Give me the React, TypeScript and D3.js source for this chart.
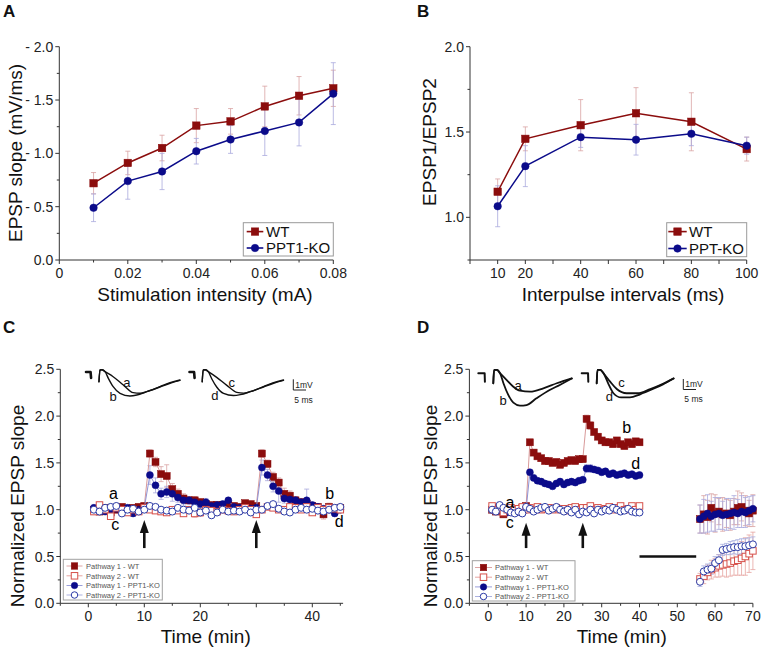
import React from "react";
import * as d3 from "d3";

type Pt = [number, number];

const FONT = "'Liberation Sans', Arial, Helvetica, sans-serif";
const WT_COLOR = "#8b0d0d";
const KO_COLOR = "#0b0b8a";
const WT_ERR = "#d9a3a3";
const KO_ERR = "#a9a9dd";
const P2_WT = "#d6504a";
const P2_KO = "#2c3ba6";
const WT_LINE_LIGHT = "#d99a9a";
const KO_LINE_LIGHT = "#8f93d6";
const AXIS = "#333";

// ---------------- Panel A ----------------
const aIntensity = [0.01, 0.02, 0.03, 0.04, 0.05, 0.06, 0.07, 0.08];
const aWT = [0.72, 0.91, 1.05, 1.26, 1.3, 1.44, 1.54, 1.61];
const aWTErr = [0.1, 0.11, 0.12, 0.16, 0.12, 0.19, 0.18, 0.17];
const aKO = [0.49, 0.74, 0.83, 1.02, 1.13, 1.21, 1.29, 1.56];
const aKOErr = [0.13, 0.17, 0.17, 0.12, 0.13, 0.23, 0.22, 0.29];
const aXTicks = [0, 0.02, 0.04, 0.06, 0.08];
const aXTickLabels = ["0", "0.02", "0.04", "0.06", "0.08"];
const aXMinor = [0.01, 0.03, 0.05, 0.07];
const aYTicks = [0, 0.5, 1, 1.5, 2];
const aYTickLabels = ["0.0", "- 0.5", "- 1.0", "- 1.5", "- 2.0"];
const aYMinor = [0.25, 0.75, 1.25, 1.75];

// ---------------- Panel B ----------------
const bInterval = [10, 20, 40, 60, 80, 100];
const bWT = [1.15, 1.46, 1.54, 1.61, 1.56, 1.4];
const bWTErr = [0.075, 0.07, 0.15, 0.15, 0.17, 0.07];
const bKO = [1.065, 1.3, 1.47, 1.455, 1.49, 1.42];
const bKOErr = [0.12, 0.12, 0.06, 0.09, 0.07, 0.05];
const bXTicks = [0, 10, 20, 30, 40, 50, 60, 70, 80, 90, 100];
const bXLabelTicks = [10, 20, 40, 60, 80, 100];
const bYTicks = [1, 1.5, 2];
const bYTickLabels = ["1.0", "1.5", "2.0"];
const bYMinor = [0.75, 1.25, 1.75];

// ---------------- Panel C ----------------
const cTime = [1, 2, 3, 4, 5, 6, 7, 8, 9, 10, 11, 12, 13, 14, 15, 16, 17, 18, 19, 20, 21, 22, 23, 24, 25, 26, 27, 28, 29, 30, 31, 32, 33, 34, 35, 36, 37, 38, 39, 40, 41, 42, 43, 44, 45];
const cP1WT = [1.0, 0.98, 1.02, 0.97, 1.0, 1.03, 1.0, 1.02, 1.03, 1.04, 1.6, 1.51, 1.38, 1.36, 1.22, 1.17, 1.12, 1.1, 1.1, 1.08, 1.06, 1.05, 1.05, 1.05, 1.05, 1.04, 1.03, 1.07, 1.06, 1.04, 1.6, 1.49, 1.35, 1.29, 1.17, 1.15, 1.1, 1.08, 1.06, 1.04, 1.03, 0.95, 1.03, 1.0, 1.02];
const cP1WTErr = [0.03, 0.03, 0.03, 0.03, 0.03, 0.03, 0.03, 0.03, 0.03, 0.03, 0.04, 0.05, 0.08, 0.12, 0.06, 0.05, 0.05, 0.04, 0.04, 0.04, 0.04, 0.03, 0.03, 0.03, 0.03, 0.03, 0.03, 0.03, 0.03, 0.03, 0.04, 0.04, 0.05, 0.05, 0.06, 0.05, 0.04, 0.04, 0.04, 0.03, 0.03, 0.05, 0.04, 0.03, 0.03];
const cP1KO = [1.02, 1.0, 0.98, 1.0, 1.01, 0.98, 1.02, 0.96, 1.0, 1.02, 1.37, 1.26, 1.17, 1.19, 1.17, 1.13, 1.1, 1.1, 1.08, 1.06, 1.08, 1.04, 1.05, 1.06, 1.1, 1.03, 1.02, 1.02, 1.01, 1.02, 1.45, 1.37, 1.25, 1.2, 1.12, 1.11, 1.1, 1.08, 1.1, 1.05, 1.03, 1.01, 1.0, 0.96, 1.0];
const cP1KOErr = [0.03, 0.03, 0.03, 0.03, 0.03, 0.03, 0.03, 0.03, 0.03, 0.03, 0.1, 0.08, 0.06, 0.06, 0.08, 0.05, 0.05, 0.04, 0.04, 0.04, 0.04, 0.03, 0.03, 0.03, 0.03, 0.03, 0.03, 0.03, 0.03, 0.03, 0.08, 0.06, 0.06, 0.12, 0.05, 0.05, 0.04, 0.04, 0.12, 0.03, 0.03, 0.03, 0.03, 0.03, 0.03];
const cP2WT = [0.98, 1.05, 1.0, 0.93, 1.02, 1.0, 0.97, 1.0, 0.98, 1.02, 1.0, 0.99, 0.98, 0.97, 1.0, 0.99, 0.96, 1.0, 0.96, 0.97, 1.0, 0.99, 0.98, 1.0, 0.99, 0.98, 1.0, 1.02, 1.0, 0.95, 1.0, 1.03, 1.02, 1.0, 1.0, 1.03, 1.02, 1.0, 1.03, 0.97, 1.02, 1.0, 1.02, 1.01, 1.0];
const cP2WTErr = [0.03, 0.03, 0.03, 0.03, 0.03, 0.03, 0.03, 0.03, 0.03, 0.03, 0.03, 0.03, 0.03, 0.03, 0.03, 0.03, 0.03, 0.03, 0.04, 0.04, 0.03, 0.03, 0.03, 0.03, 0.03, 0.03, 0.03, 0.03, 0.03, 0.03, 0.03, 0.03, 0.03, 0.03, 0.03, 0.03, 0.03, 0.03, 0.03, 0.03, 0.03, 0.03, 0.03, 0.03, 0.03];
const cP2KO = [1.0, 0.98, 1.02, 1.03, 1.04, 0.96, 1.0, 1.01, 0.98, 1.0, 1.04, 1.03, 1.0, 0.99, 0.98, 1.02, 1.0, 0.99, 1.02, 0.97, 0.99, 0.94, 0.97, 1.0, 0.98, 0.99, 0.98, 1.0, 0.97, 1.0, 1.0, 1.04, 1.06, 1.01, 0.98, 0.97, 1.0, 1.02, 1.0, 1.01, 0.99, 0.98, 1.0, 1.02, 1.03];
const cP2KOErr = [0.02, 0.02, 0.02, 0.02, 0.02, 0.02, 0.02, 0.02, 0.02, 0.02, 0.02, 0.02, 0.02, 0.02, 0.02, 0.02, 0.02, 0.02, 0.02, 0.02, 0.02, 0.02, 0.02, 0.02, 0.02, 0.02, 0.02, 0.02, 0.02, 0.02, 0.02, 0.02, 0.02, 0.02, 0.02, 0.02, 0.02, 0.02, 0.02, 0.02, 0.02, 0.02, 0.02, 0.02, 0.02];
const cArrowTimes = [10, 30];
const cXMajor = [0, 10, 20, 30, 40];
const cXLabelTicks = [0, 10, 20, 40];
const cXMinor = [-5, 5, 15, 25, 35, 45];
const tYMajor = [0, 0.5, 1, 1.5, 2, 2.5];
const tYLabels = ["0.0", "0.5", "1.0", "1.5", "2.0", "2.5"];
const tYMinor = [0.25, 0.75, 1.25, 1.75, 2.25];

// ---------------- Panel D ----------------
const dTimePre = [1, 2, 3, 4, 5, 6, 7, 8, 9, 10, 11, 12, 13, 14, 15, 16, 17, 18, 19, 20, 21, 22, 23, 24, 25, 26, 27, 28, 29, 30, 31, 32, 33, 34, 35, 36, 37, 38, 39, 40];
const dTimePost = [56, 57, 58, 59, 60, 61, 62, 63, 64, 65, 66, 67, 68, 69, 70];
const dP1WTPre = [1.0, 0.98, 1.0, 0.95, 0.99, 1.0, 0.98, 1.0, 1.02, 1.04, 1.72, 1.61, 1.57, 1.55, 1.52, 1.52, 1.5, 1.51, 1.48, 1.5, 1.52, 1.53, 1.52, 1.54, 1.54, 1.97, 1.9, 1.83, 1.78, 1.74, 1.72, 1.72, 1.7, 1.74, 1.7, 1.68, 1.72, 1.7, 1.73, 1.72];
const dP1KOPre = [1.0, 1.02, 1.0, 0.98, 0.97, 1.0, 0.99, 0.98, 0.97, 1.0, 1.4, 1.34, 1.31, 1.3, 1.28, 1.27, 1.25, 1.28, 1.3, 1.27, 1.29, 1.3, 1.29, 1.31, 1.32, 1.44, 1.44, 1.43, 1.42, 1.4, 1.41, 1.38, 1.39, 1.37, 1.38, 1.39, 1.37, 1.38, 1.36, 1.37];
const dP1PreErr = [0.02, 0.02, 0.02, 0.02, 0.02, 0.02, 0.02, 0.02, 0.02, 0.02, 0.03, 0.03, 0.03, 0.03, 0.03, 0.03, 0.03, 0.03, 0.03, 0.03, 0.03, 0.03, 0.03, 0.03, 0.03, 0.04, 0.04, 0.03, 0.03, 0.03, 0.03, 0.03, 0.03, 0.03, 0.03, 0.03, 0.03, 0.03, 0.03, 0.03];
const dP2WTPre = [1.04, 1.0, 1.02, 0.97, 1.0, 1.02, 1.0, 1.01, 1.03, 1.0, 1.02, 1.0, 1.03, 1.0, 1.01, 1.02, 1.0, 1.02, 1.0, 1.01, 0.99, 1.02, 1.03, 1.0, 1.02, 1.02, 1.04, 1.0, 1.02, 1.0, 1.01, 1.03, 1.0, 1.02, 1.04, 1.0, 1.01, 1.04, 1.0, 1.04];
const dP2KOPre = [1.0, 0.98, 1.05, 1.02, 1.0, 0.97, 0.96, 0.98, 0.96, 1.03, 1.01, 0.98, 1.0, 1.02, 1.03, 0.99, 1.01, 1.03, 1.0, 0.98, 1.0, 0.97, 1.0, 0.95, 0.98, 0.97, 1.0, 0.96, 1.0, 0.98, 1.0, 0.99, 1.02, 1.0, 0.98, 0.99, 1.01, 0.98, 0.97, 0.97];
const dP2PreErr = [0.02, 0.02, 0.02, 0.02, 0.02, 0.02, 0.02, 0.02, 0.02, 0.02, 0.02, 0.02, 0.02, 0.02, 0.02, 0.02, 0.02, 0.02, 0.02, 0.02, 0.02, 0.02, 0.02, 0.02, 0.02, 0.02, 0.02, 0.02, 0.02, 0.02, 0.02, 0.02, 0.02, 0.02, 0.02, 0.02, 0.02, 0.02, 0.02, 0.02];
const dP1WTPost = [0.9, 0.95, 0.92, 1.02, 0.96, 0.98, 0.95, 0.96, 0.94, 0.98, 1.02, 1.03, 0.99, 0.96, 0.99];
const dP1WTPostErr = [0.15, 0.2, 0.18, 0.15, 0.2, 0.14, 0.18, 0.15, 0.16, 0.14, 0.18, 0.15, 0.16, 0.14, 0.17];
const dP1KOPost = [0.9, 0.93, 0.96, 0.93, 0.95, 0.96, 0.94, 0.95, 0.96, 0.97, 0.96, 0.98, 0.97, 0.99, 1.01];
const dP1KOPostErr = [0.15, 0.18, 0.2, 0.16, 0.18, 0.17, 0.15, 0.17, 0.16, 0.18, 0.15, 0.17, 0.16, 0.15, 0.14];
const dP2WTPost = [0.26, 0.29, 0.33, 0.36, 0.38, 0.4, 0.41, 0.42, 0.43, 0.45, 0.46, 0.48, 0.5, 0.53, 0.56];
const dP2WTPostErr = [0.06, 0.08, 0.08, 0.1, 0.1, 0.12, 0.12, 0.14, 0.14, 0.15, 0.16, 0.18, 0.2, 0.2, 0.2];
const dP2KOPost = [0.23, 0.34, 0.36, 0.37, 0.43, 0.46, 0.57, 0.58, 0.59, 0.6, 0.6, 0.61, 0.61, 0.62, 0.63];
const dP2KOPostErr = [0.05, 0.06, 0.06, 0.06, 0.07, 0.06, 0.06, 0.06, 0.07, 0.07, 0.08, 0.08, 0.08, 0.08, 0.08];
const dArrowTimes = [10, 25];
const dBar = [40, 55];
const dBarLevel = 0.5;
const dXMajor = [0, 10, 20, 30, 40, 50, 60, 70];
const dXMinor = [-5, 5, 15, 25, 35, 45, 55, 65];

// ---------------- Inset traces (ms, mV) ----------------
const cArtifact: Pt[] = [[0, 0], [1.8, 0], [2.0, -0.55]];
const cTraceA: Pt[] = [[5.1, -0.91], [5.5, 0.19], [6.3, 0.21], [7.5, 0.03], [10.7, -0.44], [14.7, -1.21], [18.6, -1.93], [21.3, -1.99], [23.9, -1.84], [29.1, -1.37], [33.1, -1.0], [37.0, -0.75]];
const cTraceB: Pt[] = [[5.1, -0.91], [5.5, 0.19], [6.3, 0.21], [7.5, 0.03], [8.8, -0.59], [10.7, -1.37], [13.4, -1.99], [17.3, -2.24], [20.0, -2.15], [23.9, -1.84], [29.1, -1.4], [33.1, -1.05], [37.0, -0.78]];
const cTraceC: Pt[] = [[5.0, -0.91], [5.4, 0.19], [6.2, 0.21], [7.4, 0.03], [10.7, -0.5], [14.7, -1.25], [18.6, -1.9], [21.3, -1.97], [23.9, -1.84], [29.1, -1.37], [33.1, -1.0], [37.0, -0.75]];
const cTraceD: Pt[] = [[5.0, -0.91], [5.4, 0.19], [6.2, 0.21], [7.4, 0.03], [8.8, -0.65], [10.7, -1.4], [13.4, -2.0], [17.3, -2.2], [20.0, -2.12], [23.9, -1.84], [29.1, -1.4], [33.1, -1.05], [37.0, -0.78]];
const dArtifact: Pt[] = [[0, 0], [2.5, 0], [2.6, -0.8]];
const dTraceA: Pt[] = [[5.9, -0.95], [6.2, 0.32], [7.3, 0.32], [8.6, 0], [11.2, -0.64], [13.8, -1.28], [16.4, -1.66], [20.4, -1.75], [25.6, -1.43], [30.9, -0.95], [36.8, -0.48]];
const dTraceB: Pt[] = [[5.9, -0.95], [6.2, 0.32], [7.3, 0.32], [8.6, 0], [9.9, -0.95], [11.8, -2.06], [13.8, -2.8], [16.4, -3.08], [19.0, -3.02], [22.9, -2.38], [28.1, -1.59], [32.1, -1.11], [36.8, -0.5]];
const dTraceC: Pt[] = [[5.9, -0.95], [6.2, 0.32], [7.3, 0.32], [8.6, 0], [11.2, -0.8], [13.8, -1.5], [17.7, -1.9], [22, -1.9], [27, -1.5], [32, -1.0], [36.2, -0.48]];
const dTraceD: Pt[] = [[5.9, -0.95], [6.2, 0.32], [7.3, 0.32], [8.6, 0], [10.5, -1.0], [12.5, -1.9], [15.5, -2.3], [19, -2.3], [23, -2.0], [28, -1.5], [32, -1.05], [36.2, -0.5]];

// ---------------- helpers ----------------
function Marker({ x, y, shape, filled, color, size = 7 }: any) {
  if (shape === "sq") {
    return <rect x={x - size / 2} y={y - size / 2} width={size} height={size} fill={filled ? color : "#fff"} stroke={color} strokeWidth={filled ? 0.5 : 1} />;
  }
  return <circle cx={x} cy={y} r={size / 2} fill={filled ? color : "#fff"} stroke={color} strokeWidth={filled ? 0.5 : 1} />;
}

function ErrBars({ xs, ys, times, vals, errs, color, cap = 2.5, both = true }: any) {
  return (
    <g stroke={color} strokeWidth={0.8} fill="none">
      {times.map((t: number, i: number) => {
        const x = xs(t);
        const hi = ys(vals[i] + errs[i]);
        const lo = both ? ys(vals[i] - errs[i]) : ys(vals[i]);
        return (
          <g key={i}>
            <line x1={x} x2={x} y1={hi} y2={lo} />
            <line x1={x - cap} x2={x + cap} y1={hi} y2={hi} />
            {both && <line x1={x - cap} x2={x + cap} y1={lo} y2={lo} />}
          </g>
        );
      })}
    </g>
  );
}

function Series({ xs, ys, times, vals, shape, filled, color, lineColor, lineWidth = 1.5, size = 7 }: any) {
  const pts: Pt[] = times.map((t: number, i: number) => [t, vals[i]]);
  const path = d3.line<Pt>().x((d) => xs(d[0])).y((d) => ys(d[1]))(pts) || "";
  return (
    <g>
      <path d={path} fill="none" stroke={lineColor} strokeWidth={lineWidth} />
      {pts.map((p, i) => (
        <Marker key={i} x={xs(p[0])} y={ys(p[1])} shape={shape} filled={filled} color={color} size={size} />
      ))}
    </g>
  );
}

function AxisLeft({ scale, x0, major, labels, minor, fs = 14 }: any) {
  const [b, t] = scale.range();
  return (
    <g fontFamily={FONT}>
      <line x1={x0} x2={x0} y1={b} y2={t} stroke={AXIS} strokeWidth={1} />
      {major.map((v: number, i: number) => (
        <g key={"M" + i}>
          <line x1={x0 - 4} x2={x0} y1={scale(v)} y2={scale(v)} stroke={AXIS} />
          <text x={x0 - 6} y={scale(v)} dy="0.36em" textAnchor="end" fontSize={fs} fill="#222">{labels[i]}</text>
        </g>
      ))}
      {minor.map((v: number, i: number) => (
        <line key={"m" + i} x1={x0 - 2.5} x2={x0} y1={scale(v)} y2={scale(v)} stroke={AXIS} />
      ))}
    </g>
  );
}

function AxisBottom({ scale, y0, major, labelTicks, labelFn, minor, fs = 14 }: any) {
  const [l, r] = scale.range();
  return (
    <g fontFamily={FONT}>
      <line x1={l} x2={r} y1={y0} y2={y0} stroke={AXIS} strokeWidth={1} />
      {major.map((v: number, i: number) => (
        <line key={"M" + i} x1={scale(v)} x2={scale(v)} y1={y0} y2={y0 + 4} stroke={AXIS} />
      ))}
      {minor.map((v: number, i: number) => (
        <line key={"m" + i} x1={scale(v)} x2={scale(v)} y1={y0} y2={y0 + 2.5} stroke={AXIS} />
      ))}
      {labelTicks.map((v: number, i: number) => (
        <text key={"L" + i} x={scale(v)} y={y0 + 18} textAnchor="middle" fontSize={fs} fill="#222">{labelFn(v, i)}</text>
      ))}
    </g>
  );
}

function Trace({ pts, x0, y0, pxMs, pxMv, width = 1.4, linear = false }: any) {
  const xs = d3.scaleLinear().domain([0, 1]).range([x0, x0 + pxMs]);
  const ys = d3.scaleLinear().domain([0, 1]).range([y0, y0 - pxMv]);
  const gen = d3.line<Pt>().x((d) => xs(d[0])).y((d) => ys(d[1])).curve(linear ? d3.curveLinear : d3.curveMonotoneX);
  return <path d={gen(pts) || ""} fill="none" stroke="#111" strokeWidth={width} strokeLinejoin="round" strokeLinecap="round" />;
}

function TraceLabel({ t, v, x0, y0, pxMs, pxMv, text, fs = 13 }: any) {
  const xs = d3.scaleLinear().domain([0, 1]).range([x0, x0 + pxMs]);
  const ys = d3.scaleLinear().domain([0, 1]).range([y0, y0 - pxMv]);
  return <text x={xs(t)} y={ys(v)} dy="0.35em" textAnchor="middle" fontSize={fs} fontFamily={FONT} fill="#111">{text}</text>;
}

function ScaleBar({ x, y, pxMs, pxMv }: any) {
  return (
    <g fontFamily={FONT} fill="#222">
      <path d={`M${x},${y - pxMv}V${y}H${x + 5 * pxMs}`} fill="none" stroke="#222" strokeWidth={1} />
      <text x={x + 2} y={y - pxMv / 2} dy="0.35em" fontSize={8.5}>1mV</text>
      <text x={x + 1} y={y + 10} dy="0.35em" fontSize={8.5}>5 ms</text>
    </g>
  );
}

function Arrow({ x, yTip, yBase }: any) {
  const headLen = 13;
  const headW = 4.5;
  return (
    <g fill="#111" stroke="#111">
      <line x1={x} x2={x} y1={yTip + headLen - 1} y2={yBase} strokeWidth={2.6} />
      <path d={`M${x},${yTip}L${x - headW},${yTip + headLen}L${x + headW},${yTip + headLen}Z`} stroke="none" />
    </g>
  );
}

function LegendBig({ x, y, w, h, items, lineX0, lineX1, textX, rowYs, fs = 15 }: any) {
  return (
    <g fontFamily={FONT}>
      <rect x={x} y={y} width={w} height={h} fill="#fff" stroke="#9a9a9a" strokeWidth={1} />
      {items.map((it: any, i: number) => (
        <g key={i}>
          <line x1={lineX0} x2={lineX1} y1={rowYs[i]} y2={rowYs[i]} stroke={it.color} strokeWidth={1.6} />
          <Marker x={(lineX0 + lineX1) / 2} y={rowYs[i]} shape={it.shape} filled={true} color={it.color} size={7.5} />
          <text x={textX} y={rowYs[i]} dy="0.36em" fontSize={fs} fill="#111">{it.label}</text>
        </g>
      ))}
    </g>
  );
}

function LegendSmall({ x, y, w, h, items, lineX0, lineX1, textX, rowYs }: any) {
  return (
    <g fontFamily={FONT}>
      <rect x={x} y={y} width={w} height={h} fill="#fff" stroke="#a0a0a0" strokeWidth={1} />
      {items.map((it: any, i: number) => (
        <g key={i}>
          <line x1={lineX0} x2={lineX1} y1={rowYs[i]} y2={rowYs[i]} stroke={it.lineColor} strokeWidth={0.9} />
          <Marker x={(lineX0 + lineX1) / 2} y={rowYs[i]} shape={it.shape} filled={it.filled} color={it.color} size={6.5} />
          <text x={textX} y={rowYs[i]} dy="0.36em" fontSize={7.5} fill="#555">{it.label}</text>
        </g>
      ))}
    </g>
  );
}

const smallLegendItems = [
  { label: "Pathway 1 - WT", shape: "sq", filled: true, color: WT_COLOR, lineColor: WT_LINE_LIGHT },
  { label: "Pathway 2 - WT", shape: "sq", filled: false, color: P2_WT, lineColor: "#e39a96" },
  { label: "Pathway 1 - PPT1-KO", shape: "circ", filled: true, color: KO_COLOR, lineColor: KO_LINE_LIGHT },
  { label: "Pathway 2 - PPT1-KO", shape: "circ", filled: false, color: P2_KO, lineColor: "#a3a8dc" },
];

export default function App() {
  // scales
  const xA = d3.scaleLinear().domain([0, 0.08]).range([59.3, 333.3]);
  const yA = d3.scaleLinear().domain([0, 2]).range([260, 46.7]);
  const xB = d3.scaleLinear().domain([0, 100]).range([470, 746.7]);
  const yB = d3.scaleLinear().domain([0.75, 2]).range([260, 46.7]);
  const xC = d3.scaleLinear().domain([-5, 45.5]).range([60.3, 343.1]);
  const yC = d3.scaleLinear().domain([0, 2.5]).range([603.3, 369.3]);
  const xD = d3.scaleLinear().domain([-5, 70]).range([469.4, 752.9]);
  const yD = yC;

  const titleStyle = { fontFamily: FONT, fontSize: 19, fill: "#111" } as any;
  const letterStyle = { fontFamily: FONT, fontSize: 17, fontWeight: 700, fill: "#111" } as any;

  const cMs = 2.54, cMv = 10.7;
  const dMs = 2.54, dMv = 10.5;

  return (
    <svg width={765} height={652} style={{ position: "absolute", left: 0, top: 0, background: "#fff" }}>
      <rect x={0} y={0} width={765} height={652} fill="#fff" />
      {/* Panel letters */}
      <text x={3} y={17} style={letterStyle}>A</text>
      <text x={417} y={17} style={letterStyle}>B</text>
      <text x={3} y={333} style={letterStyle}>C</text>
      <text x={417} y={333} style={letterStyle}>D</text>

      {/* ---------- Panel A ---------- */}
      <AxisLeft scale={yA} x0={59.3} major={aYTicks} labels={aYTickLabels} minor={aYMinor} />
      <AxisBottom scale={xA} y0={260} major={aXTicks} labelTicks={aXTicks} labelFn={(v: number, i: number) => aXTickLabels[i]} minor={aXMinor} />
      <ErrBars xs={xA} ys={yA} times={aIntensity} vals={aWT} errs={aWTErr} color={WT_ERR} />
      <ErrBars xs={xA} ys={yA} times={aIntensity} vals={aKO} errs={aKOErr} color={KO_ERR} />
      <Series xs={xA} ys={yA} times={aIntensity} vals={aWT} shape="sq" filled color={WT_COLOR} lineColor={WT_COLOR} size={7.5} />
      <Series xs={xA} ys={yA} times={aIntensity} vals={aKO} shape="circ" filled color={KO_COLOR} lineColor={KO_COLOR} size={7.5} />
      <LegendBig x={243.3} y={222.7} w={90} h={33.3} lineX0={246.7} lineX1={263.3} textX={266} rowYs={[231.6, 248]}
        items={[{ label: "WT", shape: "sq", color: WT_COLOR }, { label: "PPT1-KO", shape: "circ", color: KO_COLOR }]} />
      <text transform="translate(22,153) rotate(-90)" textAnchor="middle" style={titleStyle}>EPSP slope (mV/ms)</text>
      <text x={205} y={301} textAnchor="middle" style={titleStyle}>Stimulation intensity (mA)</text>

      {/* ---------- Panel B ---------- */}
      <AxisLeft scale={yB} x0={470} major={bYTicks} labels={bYTickLabels} minor={bYMinor} />
      <AxisBottom scale={xB} y0={260} major={bXTicks} labelTicks={bXLabelTicks} labelFn={(v: number) => String(v)} minor={[]} />
      <ErrBars xs={xB} ys={yB} times={bInterval} vals={bWT} errs={bWTErr} color={WT_ERR} />
      <ErrBars xs={xB} ys={yB} times={bInterval} vals={bKO} errs={bKOErr} color={KO_ERR} />
      <Series xs={xB} ys={yB} times={bInterval} vals={bWT} shape="sq" filled color={WT_COLOR} lineColor={WT_COLOR} size={7.5} />
      <Series xs={xB} ys={yB} times={bInterval} vals={bKO} shape="circ" filled color={KO_COLOR} lineColor={KO_COLOR} size={7.5} />
      <LegendBig x={666.7} y={222.7} w={80} h={34} lineX0={668.3} lineX1={686.7} textX={689} rowYs={[231.6, 248.5]}
        items={[{ label: "WT", shape: "sq", color: WT_COLOR }, { label: "PPT-KO", shape: "circ", color: KO_COLOR }]} />
      <text transform="translate(436,142) rotate(-90)" textAnchor="middle" style={titleStyle}>EPSP1/EPSP2</text>
      <text x={623} y={301} textAnchor="middle" style={titleStyle}>Interpulse intervals (ms)</text>

      {/* ---------- Panel C ---------- */}
      <AxisLeft scale={yC} x0={60.3} major={tYMajor} labels={tYLabels} minor={tYMinor} />
      <AxisBottom scale={xC} y0={603.3} major={cXMajor} labelTicks={cXLabelTicks} labelFn={(v: number) => String(v)} minor={cXMinor} />
      <ErrBars xs={xC} ys={yC} times={cTime} vals={cP1WT} errs={cP1WTErr} color={WT_ERR} />
      <ErrBars xs={xC} ys={yC} times={cTime} vals={cP1KO} errs={cP1KOErr} color={KO_ERR} />
      <ErrBars xs={xC} ys={yC} times={cTime} vals={cP2WT} errs={cP2WTErr} color="#e6a3a0" />
      <ErrBars xs={xC} ys={yC} times={cTime} vals={cP2KO} errs={cP2KOErr} color="#aab0e0" />
      <Series xs={xC} ys={yC} times={cTime} vals={cP1WT} shape="sq" filled color={WT_COLOR} lineColor={WT_LINE_LIGHT} lineWidth={1} />
      <Series xs={xC} ys={yC} times={cTime} vals={cP1KO} shape="circ" filled color={KO_COLOR} lineColor={KO_LINE_LIGHT} lineWidth={1} />
      <Series xs={xC} ys={yC} times={cTime} vals={cP2WT} shape="sq" filled={false} color={P2_WT} lineColor="#e39a96" lineWidth={0.8} size={6.5} />
      <Series xs={xC} ys={yC} times={cTime} vals={cP2KO} shape="circ" filled={false} color={P2_KO} lineColor="#a3a8dc" lineWidth={0.8} size={7} />
      {cArrowTimes.map((t, i) => <Arrow key={i} x={xC(t)} yTip={yC(0.89)} yBase={yC(0.59)} />)}
      <text x={xC(4.5)} y={yC(1.17)} dy="0.35em" textAnchor="middle" fontSize={16} fontFamily={FONT}>a</text>
      <text x={xC(4.8)} y={yC(0.84)} dy="0.35em" textAnchor="middle" fontSize={16} fontFamily={FONT}>c</text>
      <text x={xC(43.1)} y={yC(1.17)} dy="0.35em" textAnchor="middle" fontSize={16} fontFamily={FONT}>b</text>
      <text x={xC(44.8)} y={yC(0.87)} dy="0.35em" textAnchor="middle" fontSize={16} fontFamily={FONT}>d</text>
      <LegendSmall x={63.3} y={559.3} w={99} h={40.7} lineX0={66.5} lineX1={82.5} textX={86} rowYs={[566, 575.8, 585.5, 595]} items={smallLegendItems} />
      {/* insets C */}
      <Trace pts={cArtifact} x0={86} y0={372} pxMs={cMs} pxMv={cMv} width={2.6} linear />
      <Trace pts={cTraceA} x0={86} y0={372} pxMs={cMs} pxMv={cMv} />
      <Trace pts={cTraceB} x0={86} y0={372} pxMs={cMs} pxMv={cMv} />
      <TraceLabel t={16.1} v={-1.0} x0={86} y0={372} pxMs={cMs} pxMv={cMv} text="a" />
      <TraceLabel t={10.7} v={-2.3} x0={86} y0={372} pxMs={cMs} pxMv={cMv} text="b" />
      <Trace pts={cArtifact} x0={189.5} y0={372} pxMs={cMs} pxMv={cMv} width={2.6} linear />
      <Trace pts={cTraceC} x0={189.5} y0={372} pxMs={cMs} pxMv={cMv} />
      <Trace pts={cTraceD} x0={189.5} y0={372} pxMs={cMs} pxMv={cMv} />
      <TraceLabel t={16.6} v={-0.95} x0={189.5} y0={372} pxMs={cMs} pxMv={cMv} text="c" />
      <TraceLabel t={10.0} v={-2.15} x0={189.5} y0={372} pxMs={cMs} pxMv={cMv} text="d" />
      <ScaleBar x={293.3} y={390} pxMs={cMs} pxMv={cMv} />
      <text transform="translate(24,506) rotate(-90)" textAnchor="middle" style={titleStyle}>Normalized EPSP slope</text>
      <text x={205.7} y={643} textAnchor="middle" style={titleStyle}>Time (min)</text>

      {/* ---------- Panel D ---------- */}
      <AxisLeft scale={yD} x0={469.4} major={tYMajor} labels={tYLabels} minor={tYMinor} />
      <AxisBottom scale={xD} y0={603.3} major={dXMajor} labelTicks={dXMajor} labelFn={(v: number) => String(v)} minor={dXMinor} />
      <ErrBars xs={xD} ys={yD} times={dTimePre} vals={dP1WTPre} errs={dP1PreErr} color={WT_ERR} />
      <ErrBars xs={xD} ys={yD} times={dTimePre} vals={dP1KOPre} errs={dP1PreErr} color={KO_ERR} />
      <ErrBars xs={xD} ys={yD} times={dTimePost} vals={dP1WTPost} errs={dP1WTPostErr} color={WT_ERR} />
      <ErrBars xs={xD} ys={yD} times={dTimePost} vals={dP1KOPost} errs={dP1KOPostErr} color={KO_ERR} />
      <ErrBars xs={xD} ys={yD} times={dTimePre} vals={dP2WTPre} errs={dP2PreErr} color="#e6a3a0" />
      <ErrBars xs={xD} ys={yD} times={dTimePre} vals={dP2KOPre} errs={dP2PreErr} color="#aab0e0" />
      <ErrBars xs={xD} ys={yD} times={dTimePost} vals={dP2WTPost} errs={dP2WTPostErr} color="#e6a3a0" />
      <ErrBars xs={xD} ys={yD} times={dTimePost} vals={dP2KOPost} errs={dP2KOPostErr} color="#aab0e0" />
      <Series xs={xD} ys={yD} times={dTimePre} vals={dP1WTPre} shape="sq" filled color={WT_COLOR} lineColor={WT_LINE_LIGHT} lineWidth={1} />
      <Series xs={xD} ys={yD} times={dTimePost} vals={dP1WTPost} shape="sq" filled color={WT_COLOR} lineColor={WT_LINE_LIGHT} lineWidth={1} />
      <Series xs={xD} ys={yD} times={dTimePre} vals={dP1KOPre} shape="circ" filled color={KO_COLOR} lineColor={KO_LINE_LIGHT} lineWidth={1} />
      <Series xs={xD} ys={yD} times={dTimePost} vals={dP1KOPost} shape="circ" filled color={KO_COLOR} lineColor={KO_LINE_LIGHT} lineWidth={1} />
      <Series xs={xD} ys={yD} times={dTimePre} vals={dP2WTPre} shape="sq" filled={false} color={P2_WT} lineColor="#e39a96" lineWidth={0.8} size={6.5} />
      <Series xs={xD} ys={yD} times={dTimePost} vals={dP2WTPost} shape="sq" filled={false} color={P2_WT} lineColor="#e39a96" lineWidth={0.8} size={6.5} />
      <Series xs={xD} ys={yD} times={dTimePre} vals={dP2KOPre} shape="circ" filled={false} color={P2_KO} lineColor="#a3a8dc" lineWidth={0.8} size={7} />
      <Series xs={xD} ys={yD} times={dTimePost} vals={dP2KOPost} shape="circ" filled={false} color={P2_KO} lineColor="#a3a8dc" lineWidth={0.8} size={7} />
      {dArrowTimes.map((t, i) => <Arrow key={i} x={xD(t)} yTip={yD(0.86)} yBase={yD(0.59)} />)}
      <line x1={xD(dBar[0])} x2={xD(dBar[1])} y1={yD(dBarLevel)} y2={yD(dBarLevel)} stroke="#111" strokeWidth={2.6} />
      <text x={xD(5.7)} y={yD(1.08)} dy="0.35em" textAnchor="middle" fontSize={16} fontFamily={FONT}>a</text>
      <text x={xD(5.7)} y={yD(0.86)} dy="0.35em" textAnchor="middle" fontSize={16} fontFamily={FONT}>c</text>
      <text x={xD(36.6)} y={yD(1.88)} dy="0.35em" textAnchor="middle" fontSize={16} fontFamily={FONT}>b</text>
      <text x={xD(39)} y={yD(1.5)} dy="0.35em" textAnchor="middle" fontSize={16} fontFamily={FONT}>d</text>
      <LegendSmall x={472.3} y={560.7} w={102.7} h={40.3} lineX0={475} lineX1={492} textX={495} rowYs={[567.5, 577.2, 586.9, 596.5]} items={smallLegendItems} />
      {/* insets D */}
      <Trace pts={dArtifact} x0={478.3} y0={373.3} pxMs={dMs} pxMv={dMv} width={2} linear />
      <Trace pts={dTraceA} x0={478.3} y0={373.3} pxMs={dMs} pxMv={dMv} width={1.8} />
      <Trace pts={dTraceB} x0={478.3} y0={373.3} pxMs={dMs} pxMv={dMv} width={1.8} />
      <TraceLabel t={15.7} v={-1.11} x0={478.3} y0={373.3} pxMs={dMs} pxMv={dMv} text="a" />
      <TraceLabel t={9.8} v={-2.54} x0={478.3} y0={373.3} pxMs={dMs} pxMv={dMv} text="b" />
      <Trace pts={dArtifact} x0={581.7} y0={373.3} pxMs={dMs} pxMv={dMv} width={2} linear />
      <Trace pts={dTraceC} x0={581.7} y0={373.3} pxMs={dMs} pxMv={dMv} width={1.8} />
      <Trace pts={dTraceD} x0={581.7} y0={373.3} pxMs={dMs} pxMv={dMv} width={1.8} />
      <TraceLabel t={15.7} v={-0.9} x0={581.7} y0={373.3} pxMs={dMs} pxMv={dMv} text="c" />
      <TraceLabel t={10.9} v={-2.23} x0={581.7} y0={373.3} pxMs={dMs} pxMv={dMv} text="d" />
      <ScaleBar x={683.3} y={389.5} pxMs={dMs} pxMv={dMv} />
      <text transform="translate(437,506) rotate(-90)" textAnchor="middle" style={titleStyle}>Normalized EPSP slope</text>
      <text x={621.7} y={643} textAnchor="middle" style={titleStyle}>Time (min)</text>
    </svg>
  );
}
